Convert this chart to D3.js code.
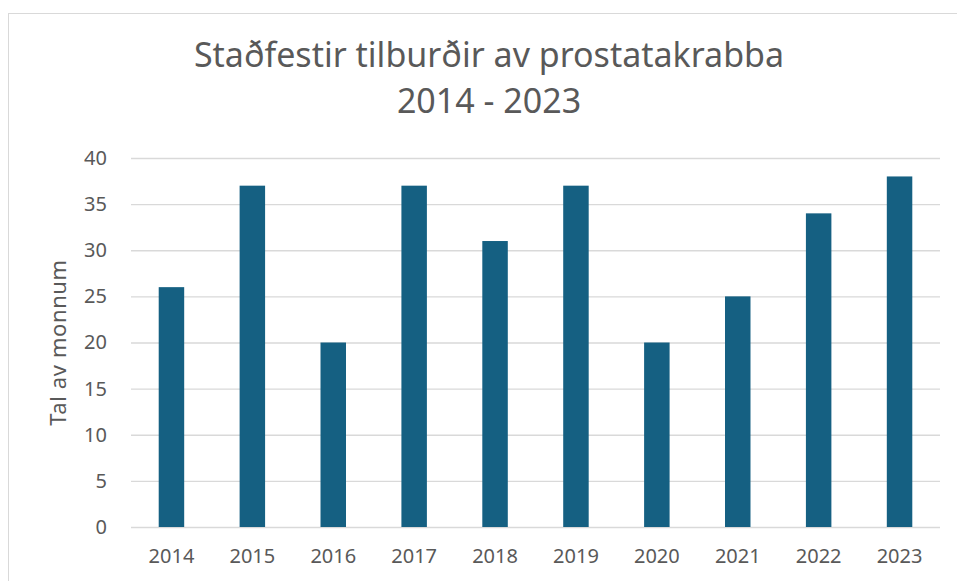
<!DOCTYPE html>
<html>
<head>
    <meta charset="utf-8">
    <title>prostatakrabbi</title>
    <script src="https://cdn.jsdelivr.net/npm/d3@7/dist/d3.min.js"></script>
    <style>
        body { margin: 0; background: #fff; }
        text { font-family: "Noto Sans", "Open Sans", sans-serif; fill: #595959; }
    </style>
</head>
<body>

<div id="graphDiv"></div>

<script>

var width = 957,
    height = 581,
    years = ["2014", "2015", "2016", "2017", "2018", "2019", "2020", "2021", "2022", "2023"],
    cases = [26, 37, 20, 37, 31, 37, 20, 25, 34, 38],
    yTicks = [0, 5, 10, 15, 20, 25, 30, 35, 40],
    titleLines = ["Staðfestir tilburðir av prostatakrabba", "2014 - 2023"],
    yLabel = "Tal av monnum",
    margin = { top: 158, right: 17, bottom: 54, left: 131 }

var svg = d3.select('#graphDiv').append('svg')
    .attr('width', width)
    .attr('height', height);

// chart frame
svg.append("rect")
    .attr("x", 8.5).attr("y", 13.5)
    .attr("width", 970).attr("height", 600)
    .style("fill", "none")
    .style("stroke", "#d9d9d9");

var x = d3.scaleBand()
    .domain(years)
    .range([margin.left, width - margin.right])
    .paddingInner(0.685)
    .paddingOuter(0.3425);

var y = d3.scaleLinear()
    .domain([0, 40])
    .range([height - margin.bottom, margin.top]);

// gridlines
var yAxis = svg.append("g")
    .attr("transform", "translate(" + margin.left + ",0)")
    .call(d3.axisLeft(y).tickValues(yTicks).tickSize(-(width - margin.left - margin.right)).tickPadding(24));

yAxis.select(".domain").remove();
yAxis.selectAll("line").style("stroke", "#d9d9d9").style("stroke-width", 1.3);
yAxis.selectAll("text").style("font-size", "20px").style("fill", "#595959");

// bars
svg.selectAll(".bar")
    .data(cases)
    .enter().append("rect")
    .attr("class", "bar")
    .attr("x", function(d, i) { return x(years[i]); })
    .attr("width", x.bandwidth())
    .attr("y", function(d) { return y(d); })
    .attr("height", function(d) { return y(0) - y(d); })
    .style("fill", "#156082");

var xAxis = svg.append("g")
    .attr("transform", "translate(0," + (height - margin.bottom) + ")")
    .call(d3.axisBottom(x).tickSize(0).tickPadding(22));

xAxis.select(".domain").remove();
xAxis.selectAll("text").style("font-size", "20px").style("fill", "#595959");

// title
svg.append("text")
    .attr("x", 489)
    .attr("text-anchor", "middle")
    .style("font-size", "34px")
    .selectAll("tspan")
    .data(titleLines)
    .enter().append("tspan")
    .attr("x", 489)
    .attr("y", function(d, i) { return 67 + i * 46; })
    .text(function(d) { return d; });

// y label
svg.append("text")
    .attr("transform", "translate(66," + ((y(0) + y(40)) / 2) + ") rotate(-90)")
    .attr("text-anchor", "middle")
    .style("font-size", "22px")
    .style("letter-spacing", "0.6px")
    .text(yLabel);

</script>

</body>
</html>
